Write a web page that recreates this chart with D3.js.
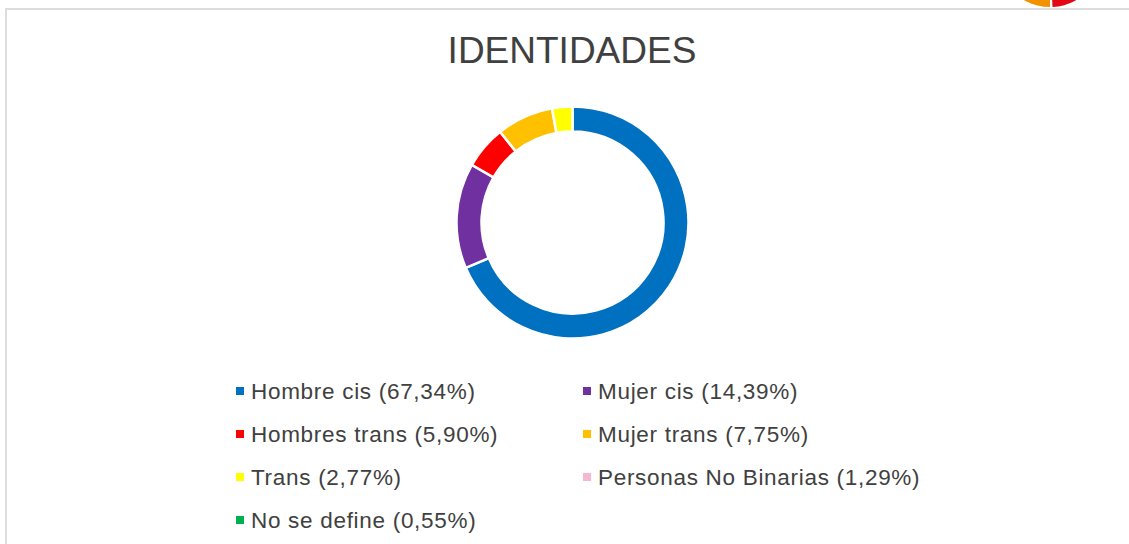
<!DOCTYPE html>
<html>
<head>
<meta charset="utf-8">
<script src="https://cdn.jsdelivr.net/npm/d3@7"></script>
<style>
  html, body { margin: 0; padding: 0; background: #fff; }
  svg { display: block; }
</style>
</head>
<body>
<svg id="chart" width="1129" height="544"></svg>
<script>
const title = "IDENTIDADES";
const categories = ["Hombre cis", "Mujer cis", "Hombres trans", "Mujer trans", "Trans", "Personas No Binarias", "No se define"];
const percentLabels = ["67,34%", "14,39%", "5,90%", "7,75%", "2,77%", "1,29%", "0,55%"];
// values plotted in the ring (the last two slices do not appear in the ring)
const ringValues = [67.34, 14.39, 5.90, 7.75, 2.77, 0, 0];
const colors = ["#0070C0", "#7030A0", "#FF0000", "#FFC000", "#FFFF00", "#F2B8D2", "#00B050"];

const svg = d3.select("#chart");
const W = 1129, H = 544;

// frame
svg.append("rect")
  .attr("x", 6).attr("y", 9)
  .attr("width", W + 20).attr("height", H + 20)
  .attr("fill", "none")
  .attr("stroke", "#DDDDDD")
  .attr("stroke-width", 2);

// partial logo at top right (cut off by viewport)
const logo = svg.append("g").attr("transform", "translate(1050,-46)");
const logoArc = d3.arc().innerRadius(30).outerRadius(53);
logo.append("path").attr("d", logoArc({startAngle: Math.PI * 1.0, endAngle: Math.PI * 1.3})).attr("fill", "#F39200");
logo.append("path").attr("d", logoArc({startAngle: Math.PI * 0.7, endAngle: Math.PI * 0.985})).attr("fill", "#E30613");

// title
svg.append("text")
  .attr("x", 572).attr("y", 63)
  .attr("text-anchor", "middle")
  .attr("font-family", "'Liberation Sans', Arial, sans-serif")
  .attr("font-size", 37)
  .attr("fill", "#404040")
  .text(title);

// donut
const cx = 572.5, cy = 222.5;
const pie = d3.pie().sort(null).value(d => d);
const arc = d3.arc().innerRadius(91).outerRadius(116);
const g = svg.append("g").attr("transform", `translate(${cx},${cy})`);
g.selectAll("path")
  .data(pie(ringValues))
  .join("path")
  .attr("d", arc)
  .attr("fill", (d, i) => colors[i])
  .attr("stroke", "#fff")
  .attr("stroke-width", (d) => d.value > 0 ? 2.5 : 0);

// legend
const colX = [236, 583];
const rowY = [391, 434, 477, 520];
const leg = svg.append("g");
categories.forEach((c, i) => {
  const col = i % 2, row = Math.floor(i / 2);
  const x = colX[col], y = rowY[row];
  leg.append("rect")
    .attr("x", x).attr("y", y - 4)
    .attr("width", 8).attr("height", 8)
    .attr("fill", colors[i]);
  leg.append("text")
    .attr("x", x + 15).attr("y", y + 8)
    .attr("font-family", "'Liberation Sans', Arial, sans-serif")
    .attr("font-size", 22.5)
    .attr("letter-spacing", 0.7)
    .attr("fill", "#404040")
    .text(`${c} (${percentLabels[i]})`);
});
</script>
</body>
</html>
